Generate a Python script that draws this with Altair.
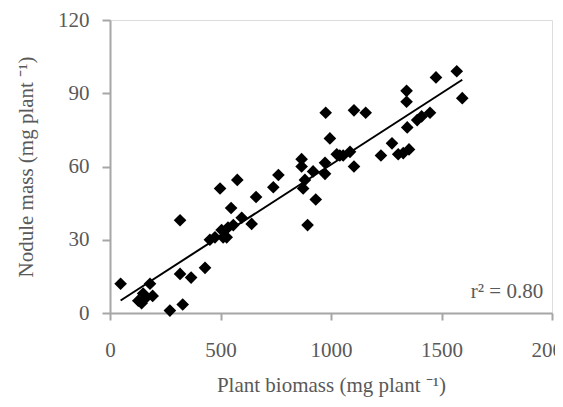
import altair as alt
import pandas as pd

biomass = [48, 128, 143, 150, 160, 181, 193, 271, 329, 317, 317, 367, 430, 452, 475,
           498, 505, 512, 528, 534, 548, 558, 576, 596, 641, 661, 739, 762, 867, 867,
           882, 874, 894, 919, 931, 973, 973, 976, 995, 1026, 1040, 1055, 1086, 1104,
           1104, 1157, 1226, 1276, 1304, 1327, 1353, 1342, 1342, 1345, 1390, 1410,
           1448, 1475, 1569, 1594]
nodule = [12, 5, 4, 8, 6, 12, 7, 1, 3.5, 38, 16, 14.5, 18.5, 30, 31,
          51, 34, 31, 31, 35, 43, 36, 54.5, 39, 36.5, 47.5, 51.5, 56.5, 63, 60,
          54.5, 51, 36, 58, 46.5, 61.5, 57, 82, 71.5, 65, 64.5, 64.5, 66, 60,
          83, 82, 64.5, 69.5, 65, 65.5, 67, 91, 86.5, 76, 79, 80.5,
          82, 96.5, 99, 88]

x_ticks = [0, 500, 1000, 1500, 2000]
y_ticks = [0, 30, 60, 90, 120]
note_text = ["r\u00b2 = 0.80"]
note_x = [1960]
note_y = [8.5]

df = pd.DataFrame({"biomass": biomass, "nodule": nodule})
note = pd.DataFrame({"x": note_x, "y": note_y, "t": note_text})

FONT = "Liberation Serif"
GRAY_TXT = "#595959"
GRAY_AX = "#a6a6a6"

xs = alt.Scale(domain=[0, 2000], nice=False)
ys = alt.Scale(domain=[0, 120], nice=False)

xaxis = alt.Axis(values=x_ticks, format="d", title="Plant biomass (mg plant \u207b\u00b9)", grid=False,
                 domainColor=GRAY_AX, domainWidth=2, tickColor=GRAY_AX, tickWidth=2,
                 tickSize=7, labelFont=FONT, labelFontSize=21, labelColor=GRAY_TXT,
                 labelPadding=19, titleFont=FONT, titleFontSize=21, titleFontWeight="normal",
                 titleColor=GRAY_TXT, titlePadding=14, labelOverlap=False, labelFlush=False)
yaxis = alt.Axis(values=y_ticks, format="d", title="Nodule mass (mg plant \u207b\u00b9)", grid=False,
                 domainColor=GRAY_AX, domainWidth=2, tickColor=GRAY_AX, tickWidth=2,
                 tickSize=8, labelFont=FONT, labelFontSize=21, labelColor=GRAY_TXT,
                 labelPadding=13, titleFont=FONT, titleFontSize=21, titleFontWeight="normal",
                 titleColor=GRAY_TXT, titlePadding=21, labelOverlap=False)

base = alt.Chart(df)
points = base.mark_point(shape="diamond", filled=True, color="black", size=160, opacity=1).encode(
    x=alt.X("biomass:Q", scale=xs, axis=xaxis),
    y=alt.Y("nodule:Q", scale=ys, axis=yaxis),
)
line = base.transform_regression("biomass", "nodule").mark_line(color="black", strokeWidth=2).encode(
    x=alt.X("biomass:Q", scale=xs),
    y=alt.Y("nodule:Q", scale=ys),
)
text = alt.Chart(note).mark_text(font=FONT, fontSize=21, color=GRAY_TXT, align="right",
                                 baseline="middle").encode(
    x=alt.X("x:Q", scale=xs), y=alt.Y("y:Q", scale=ys), text="t:N")

chart = (points + line + text).properties(
    width=442, height=293,
    autosize=alt.AutoSizeParams(type="none"),
    padding={"left": 102, "top": 12, "right": 3, "bottom": 84},
).configure_view(stroke=None).configure(background="white")

chart.save("out.html", embed_options={"renderer": "svg", "actions": False})
